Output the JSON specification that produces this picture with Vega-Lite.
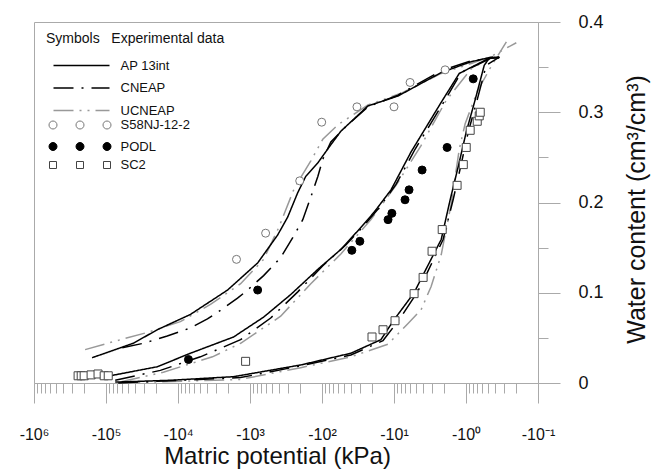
{
  "$schema": "https://vega.github.io/schema/vega-lite/v6.json",
  "width": 504,
  "height": 361,
  "autosize": {"type": "none"},
  "padding": {"left": 34, "top": 22, "right": 122, "bottom": 91},
  "background": "white",
  "config": {
    "font": "Liberation Sans",
    "view": {"stroke": "#aaaaaa", "strokeWidth": 1},
    "axis": {"grid": false},
    "legend": {"padding": 0}
  },
  "resolve": {
    "axis": {"x": "independent", "y": "independent"},
    "scale": {"fill": "independent", "stroke": "independent"}
  },
  "datasets": {
    "curves": [
      {"model": "UCNEAP", "soil": "S58NJ-12-2", "h": 195000, "theta": 0.037},
      {"model": "UCNEAP", "soil": "S58NJ-12-2", "h": 69800, "theta": 0.047},
      {"model": "UCNEAP", "soil": "S58NJ-12-2", "h": 26700, "theta": 0.056},
      {"model": "UCNEAP", "soil": "S58NJ-12-2", "h": 9270, "theta": 0.068},
      {"model": "UCNEAP", "soil": "S58NJ-12-2", "h": 3540, "theta": 0.087},
      {"model": "UCNEAP", "soil": "S58NJ-12-2", "h": 1350, "theta": 0.110},
      {"model": "UCNEAP", "soil": "S58NJ-12-2", "h": 647, "theta": 0.137},
      {"model": "UCNEAP", "soil": "S58NJ-12-2", "h": 400, "theta": 0.172},
      {"model": "UCNEAP", "soil": "S58NJ-12-2", "h": 239, "theta": 0.217},
      {"model": "UCNEAP", "soil": "S58NJ-12-2", "h": 143, "theta": 0.246},
      {"model": "UCNEAP", "soil": "S58NJ-12-2", "h": 97.5, "theta": 0.270},
      {"model": "UCNEAP", "soil": "S58NJ-12-2", "h": 60.3, "theta": 0.286},
      {"model": "UCNEAP", "soil": "S58NJ-12-2", "h": 23.0, "theta": 0.308},
      {"model": "UCNEAP", "soil": "S58NJ-12-2", "h": 8.0, "theta": 0.321},
      {"model": "UCNEAP", "soil": "S58NJ-12-2", "h": 2.21, "theta": 0.343},
      {"model": "UCNEAP", "soil": "S58NJ-12-2", "h": 0.847, "theta": 0.354},
      {"model": "UCNEAP", "soil": "S58NJ-12-2", "h": 0.446, "theta": 0.362},
      {"model": "UCNEAP", "soil": "S58NJ-12-2", "h": 0.2, "theta": 0.377},
      {"model": "UCNEAP", "soil": "PODL", "h": 63400, "theta": 0.001},
      {"model": "UCNEAP", "soil": "PODL", "h": 16000, "theta": 0.012},
      {"model": "UCNEAP", "soil": "PODL", "h": 3320, "theta": 0.029},
      {"model": "UCNEAP", "soil": "PODL", "h": 1350, "theta": 0.044},
      {"model": "UCNEAP", "soil": "PODL", "h": 375, "theta": 0.074},
      {"model": "UCNEAP", "soil": "PODL", "h": 143, "theta": 0.110},
      {"model": "UCNEAP", "soil": "PODL", "h": 54.7, "theta": 0.143},
      {"model": "UCNEAP", "soil": "PODL", "h": 20.9, "theta": 0.181},
      {"model": "UCNEAP", "soil": "PODL", "h": 9.38, "theta": 0.219},
      {"model": "UCNEAP", "soil": "PODL", "h": 4.21, "theta": 0.263},
      {"model": "UCNEAP", "soil": "PODL", "h": 1.89, "theta": 0.313},
      {"model": "UCNEAP", "soil": "PODL", "h": 0.847, "theta": 0.348},
      {"model": "UCNEAP", "soil": "PODL", "h": 0.418, "theta": 0.362},
      {"model": "UCNEAP", "soil": "SC2", "h": 63400, "theta": 0.0},
      {"model": "UCNEAP", "soil": "SC2", "h": 1350, "theta": 0.004},
      {"model": "UCNEAP", "soil": "SC2", "h": 197, "theta": 0.017},
      {"model": "UCNEAP", "soil": "SC2", "h": 39.7, "theta": 0.029},
      {"model": "UCNEAP", "soil": "SC2", "h": 12.1, "theta": 0.043},
      {"model": "UCNEAP", "soil": "SC2", "h": 6.38, "theta": 0.066},
      {"model": "UCNEAP", "soil": "SC2", "h": 4.21, "theta": 0.081},
      {"model": "UCNEAP", "soil": "SC2", "h": 3.05, "theta": 0.107},
      {"model": "UCNEAP", "soil": "SC2", "h": 2.21, "theta": 0.142},
      {"model": "UCNEAP", "soil": "SC2", "h": 1.61, "theta": 0.198},
      {"model": "UCNEAP", "soil": "SC2", "h": 1.24, "theta": 0.259},
      {"model": "UCNEAP", "soil": "SC2", "h": 1.03, "theta": 0.287},
      {"model": "UCNEAP", "soil": "SC2", "h": 0.698, "theta": 0.323},
      {"model": "UCNEAP", "soil": "SC2", "h": 0.446, "theta": 0.351},
      {"model": "UCNEAP", "soil": "SC2", "h": 0.275, "theta": 0.378},
      {"model": "CNEAP", "soil": "S58NJ-12-2", "h": 59500, "theta": 0.039},
      {"model": "CNEAP", "soil": "S58NJ-12-2", "h": 30300, "theta": 0.044},
      {"model": "CNEAP", "soil": "S58NJ-12-2", "h": 14100, "theta": 0.052},
      {"model": "CNEAP", "soil": "S58NJ-12-2", "h": 6710, "theta": 0.061},
      {"model": "CNEAP", "soil": "S58NJ-12-2", "h": 3900, "theta": 0.071},
      {"model": "CNEAP", "soil": "S58NJ-12-2", "h": 2740, "theta": 0.079},
      {"model": "CNEAP", "soil": "S58NJ-12-2", "h": 1490, "theta": 0.094},
      {"model": "CNEAP", "soil": "S58NJ-12-2", "h": 1080, "theta": 0.103},
      {"model": "CNEAP", "soil": "S58NJ-12-2", "h": 647, "theta": 0.119},
      {"model": "CNEAP", "soil": "S58NJ-12-2", "h": 375, "theta": 0.139},
      {"model": "CNEAP", "soil": "S58NJ-12-2", "h": 255, "theta": 0.161},
      {"model": "CNEAP", "soil": "S58NJ-12-2", "h": 185, "theta": 0.181},
      {"model": "CNEAP", "soil": "S58NJ-12-2", "h": 143, "theta": 0.206},
      {"model": "CNEAP", "soil": "S58NJ-12-2", "h": 114, "theta": 0.229},
      {"model": "CNEAP", "soil": "S58NJ-12-2", "h": 97.5, "theta": 0.248},
      {"model": "CNEAP", "soil": "S58NJ-12-2", "h": 75.4, "theta": 0.267},
      {"model": "CNEAP", "soil": "S58NJ-12-2", "h": 46.7, "theta": 0.284},
      {"model": "CNEAP", "soil": "S58NJ-12-2", "h": 23.0, "theta": 0.306},
      {"model": "CNEAP", "soil": "S58NJ-12-2", "h": 8.79, "theta": 0.319},
      {"model": "CNEAP", "soil": "S58NJ-12-2", "h": 2.21, "theta": 0.346},
      {"model": "CNEAP", "soil": "S58NJ-12-2", "h": 0.847, "theta": 0.357},
      {"model": "CNEAP", "soil": "S58NJ-12-2", "h": 0.345, "theta": 0.361},
      {"model": "CNEAP", "soil": "PODL", "h": 74500, "theta": 0.003},
      {"model": "CNEAP", "soil": "PODL", "h": 17600, "theta": 0.014},
      {"model": "CNEAP", "soil": "PODL", "h": 4880, "theta": 0.029},
      {"model": "CNEAP", "soil": "PODL", "h": 1350, "theta": 0.048},
      {"model": "CNEAP", "soil": "PODL", "h": 516, "theta": 0.072},
      {"model": "CNEAP", "soil": "PODL", "h": 217, "theta": 0.101},
      {"model": "CNEAP", "soil": "PODL", "h": 97.5, "theta": 0.130},
      {"model": "CNEAP", "soil": "PODL", "h": 46.7, "theta": 0.153},
      {"model": "CNEAP", "soil": "PODL", "h": 27.0, "theta": 0.173},
      {"model": "CNEAP", "soil": "PODL", "h": 16.2, "theta": 0.194},
      {"model": "CNEAP", "soil": "PODL", "h": 9.38, "theta": 0.220},
      {"model": "CNEAP", "soil": "PODL", "h": 5.10, "theta": 0.259},
      {"model": "CNEAP", "soil": "PODL", "h": 2.01, "theta": 0.312},
      {"model": "CNEAP", "soil": "PODL", "h": 1.17, "theta": 0.344},
      {"model": "CNEAP", "soil": "PODL", "h": 0.446, "theta": 0.360},
      {"model": "CNEAP", "soil": "SC2", "h": 67600, "theta": 0.0},
      {"model": "CNEAP", "soil": "SC2", "h": 1350, "theta": 0.006},
      {"model": "CNEAP", "soil": "SC2", "h": 197, "theta": 0.019},
      {"model": "CNEAP", "soil": "SC2", "h": 39.7, "theta": 0.031},
      {"model": "CNEAP", "soil": "SC2", "h": 14.2, "theta": 0.047},
      {"model": "CNEAP", "soil": "SC2", "h": 8.51, "theta": 0.070},
      {"model": "CNEAP", "soil": "SC2", "h": 4.79, "theta": 0.100},
      {"model": "CNEAP", "soil": "SC2", "h": 3.47, "theta": 0.122},
      {"model": "CNEAP", "soil": "SC2", "h": 2.08, "theta": 0.159},
      {"model": "CNEAP", "soil": "SC2", "h": 1.51, "theta": 0.203},
      {"model": "CNEAP", "soil": "SC2", "h": 1.17, "theta": 0.242},
      {"model": "CNEAP", "soil": "SC2", "h": 0.931, "theta": 0.278},
      {"model": "CNEAP", "soil": "SC2", "h": 0.698, "theta": 0.314},
      {"model": "CNEAP", "soil": "SC2", "h": 0.524, "theta": 0.352},
      {"model": "CNEAP", "soil": "SC2", "h": 0.345, "theta": 0.361},
      {"model": "AP 13int", "soil": "S58NJ-12-2", "h": 156000, "theta": 0.028},
      {"model": "AP 13int", "soil": "S58NJ-12-2", "h": 41800, "theta": 0.044},
      {"model": "AP 13int", "soil": "S58NJ-12-2", "h": 19400, "theta": 0.059},
      {"model": "AP 13int", "soil": "S58NJ-12-2", "h": 6710, "theta": 0.076},
      {"model": "AP 13int", "soil": "S58NJ-12-2", "h": 2050, "theta": 0.103},
      {"model": "AP 13int", "soil": "S58NJ-12-2", "h": 783, "theta": 0.133},
      {"model": "AP 13int", "soil": "S58NJ-12-2", "h": 413, "theta": 0.164},
      {"model": "AP 13int", "soil": "S58NJ-12-2", "h": 299, "theta": 0.184},
      {"model": "AP 13int", "soil": "S58NJ-12-2", "h": 217, "theta": 0.211},
      {"model": "AP 13int", "soil": "S58NJ-12-2", "h": 168, "theta": 0.229},
      {"model": "AP 13int", "soil": "S58NJ-12-2", "h": 114, "theta": 0.244},
      {"model": "AP 13int", "soil": "S58NJ-12-2", "h": 75.4, "theta": 0.264},
      {"model": "AP 13int", "soil": "S58NJ-12-2", "h": 54.7, "theta": 0.279},
      {"model": "AP 13int", "soil": "S58NJ-12-2", "h": 23.0, "theta": 0.307},
      {"model": "AP 13int", "soil": "S58NJ-12-2", "h": 8.79, "theta": 0.318},
      {"model": "AP 13int", "soil": "S58NJ-12-2", "h": 2.21, "theta": 0.344},
      {"model": "AP 13int", "soil": "S58NJ-12-2", "h": 0.847, "theta": 0.356},
      {"model": "AP 13int", "soil": "S58NJ-12-2", "h": 0.446, "theta": 0.361},
      {"model": "AP 13int", "soil": "S58NJ-12-2", "h": 0.345, "theta": 0.360},
      {"model": "AP 13int", "soil": "PODL", "h": 87500, "theta": 0.008},
      {"model": "AP 13int", "soil": "PODL", "h": 19400, "theta": 0.018},
      {"model": "AP 13int", "soil": "PODL", "h": 6710, "theta": 0.033},
      {"model": "AP 13int", "soil": "PODL", "h": 1690, "theta": 0.051},
      {"model": "AP 13int", "soil": "PODL", "h": 647, "theta": 0.073},
      {"model": "AP 13int", "soil": "PODL", "h": 272, "theta": 0.098},
      {"model": "AP 13int", "soil": "PODL", "h": 114, "theta": 0.126},
      {"model": "AP 13int", "soil": "PODL", "h": 54.7, "theta": 0.148},
      {"model": "AP 13int", "soil": "PODL", "h": 30.7, "theta": 0.170},
      {"model": "AP 13int", "soil": "PODL", "h": 19.0, "theta": 0.189},
      {"model": "AP 13int", "soil": "PODL", "h": 11.0, "theta": 0.214},
      {"model": "AP 13int", "soil": "PODL", "h": 5.80, "theta": 0.256},
      {"model": "AP 13int", "soil": "PODL", "h": 2.21, "theta": 0.311},
      {"model": "AP 13int", "soil": "PODL", "h": 1.24, "theta": 0.343},
      {"model": "AP 13int", "soil": "PODL", "h": 0.475, "theta": 0.360},
      {"model": "AP 13int", "soil": "PODL", "h": 0.345, "theta": 0.361},
      {"model": "AP 13int", "soil": "SC2", "h": 74500, "theta": 0.001},
      {"model": "AP 13int", "soil": "SC2", "h": 12800, "theta": 0.003},
      {"model": "AP 13int", "soil": "SC2", "h": 1690, "theta": 0.007},
      {"model": "AP 13int", "soil": "SC2", "h": 197, "theta": 0.020},
      {"model": "AP 13int", "soil": "SC2", "h": 39.7, "theta": 0.033},
      {"model": "AP 13int", "soil": "SC2", "h": 15.2, "theta": 0.048},
      {"model": "AP 13int", "soil": "SC2", "h": 10.0, "theta": 0.070},
      {"model": "AP 13int", "soil": "SC2", "h": 5.26, "theta": 0.100},
      {"model": "AP 13int", "soil": "SC2", "h": 3.82, "theta": 0.122},
      {"model": "AP 13int", "soil": "SC2", "h": 2.21, "theta": 0.159},
      {"model": "AP 13int", "soil": "SC2", "h": 1.66, "theta": 0.203},
      {"model": "AP 13int", "soil": "SC2", "h": 1.28, "theta": 0.240},
      {"model": "AP 13int", "soil": "SC2", "h": 0.993, "theta": 0.278},
      {"model": "AP 13int", "soil": "SC2", "h": 0.745, "theta": 0.314},
      {"model": "AP 13int", "soil": "SC2", "h": 0.558, "theta": 0.352},
      {"model": "AP 13int", "soil": "SC2", "h": 0.475, "theta": 0.360},
      {"model": "AP 13int", "soil": "SC2", "h": 0.345, "theta": 0.361}
    ],
    "obs": [
      {"soil": "S58NJ-12-2", "h": 1540, "theta": 0.137},
      {"soil": "S58NJ-12-2", "h": 607, "theta": 0.166},
      {"soil": "S58NJ-12-2", "h": 204, "theta": 0.224},
      {"soil": "S58NJ-12-2", "h": 101, "theta": 0.289},
      {"soil": "S58NJ-12-2", "h": 32.7, "theta": 0.306},
      {"soil": "S58NJ-12-2", "h": 10.0, "theta": 0.306},
      {"soil": "S58NJ-12-2", "h": 5.98, "theta": 0.333},
      {"soil": "S58NJ-12-2", "h": 1.95, "theta": 0.347},
      {"soil": "PODL", "h": 7160, "theta": 0.026},
      {"soil": "PODL", "h": 783, "theta": 0.103},
      {"soil": "PODL", "h": 38.5, "theta": 0.147},
      {"soil": "PODL", "h": 29.8, "theta": 0.157},
      {"soil": "PODL", "h": 12.1, "theta": 0.181},
      {"soil": "PODL", "h": 10.7, "theta": 0.188},
      {"soil": "PODL", "h": 7.03, "theta": 0.203},
      {"soil": "PODL", "h": 6.18, "theta": 0.214},
      {"soil": "PODL", "h": 4.07, "theta": 0.236},
      {"soil": "PODL", "h": 1.83, "theta": 0.261},
      {"soil": "PODL", "h": 0.794, "theta": 0.337}
    ],
    "obs_sc2": [
      {"soil": "SC2", "h": 244000, "theta": 0.008},
      {"soil": "SC2", "h": 221000, "theta": 0.008},
      {"soil": "SC2", "h": 201000, "theta": 0.008},
      {"soil": "SC2", "h": 161000, "theta": 0.009},
      {"soil": "SC2", "h": 129000, "theta": 0.010},
      {"soil": "SC2", "h": 106000, "theta": 0.008},
      {"soil": "SC2", "h": 93100, "theta": 0.008},
      {"soil": "SC2", "h": 1151, "theta": 0.024},
      {"soil": "SC2", "h": 20.2, "theta": 0.051},
      {"soil": "SC2", "h": 14.2, "theta": 0.059},
      {"soil": "SC2", "h": 9.68, "theta": 0.069},
      {"soil": "SC2", "h": 5.26, "theta": 0.099},
      {"soil": "SC2", "h": 3.94, "theta": 0.117},
      {"soil": "SC2", "h": 2.96, "theta": 0.146},
      {"soil": "SC2", "h": 2.14, "theta": 0.170},
      {"soil": "SC2", "h": 1.33, "theta": 0.219},
      {"soil": "SC2", "h": 1.09, "theta": 0.242},
      {"soil": "SC2", "h": 0.993, "theta": 0.261},
      {"soil": "SC2", "h": 0.875, "theta": 0.280},
      {"soil": "SC2", "h": 0.698, "theta": 0.290},
      {"soil": "SC2", "h": 0.655, "theta": 0.296},
      {"soil": "SC2", "h": 0.634, "theta": 0.300}
    ]
  },
  "layer": [
    {
      "data": {"name": "curves"},
      "mark": {"type": "line", "strokeWidth": 1.5},
      "encoding": {
        "x": {
          "field": "h",
          "type": "quantitative",
          "scale": {"type": "log", "domain": [0.1, 1000000], "reverse": true, "nice": false},
          "axis": {
            "orient": "bottom",
            "values": [0.1, 1, 10, 100, 1000, 10000, 100000, 1000000],
            "ticks": true,
            "tickSize": 20,
            "tickColor": "#aaaaaa",
            "tickWidth": 1,
            "domainColor": "#aaaaaa",
            "domainWidth": 1,
            "labelExpr": "['-10⁻¹','-10⁰','-10¹','-10²','-10³','-10⁴','-10⁵','-10⁶'][round(log(datum.value)/LN10) + 1]",
            "labelFontSize": 16,
            "labelColor": "#111111",
            "labelPadding": 23.5,
            "labelOverlap": false,
            "labelFlush": false,
            "labelBound": false,
            "title": "Matric potential (kPa)",
            "titleFontSize": 24,
            "titleFontWeight": "normal",
            "titleColor": "#111111",
            "titlePadding": 2,
            "titleX": 243,
            "grid": false
          }
        },
        "y": {
          "field": "theta",
          "type": "quantitative",
          "scale": {"domain": [0, 0.4], "nice": false},
          "axis": {
            "orient": "right",
            "values": [0, 0.1, 0.2, 0.3, 0.4],
            "ticks": true,
            "tickSize": 22,
            "tickColor": "#aaaaaa",
            "tickWidth": 1,
            "domainColor": "#aaaaaa",
            "domainWidth": 1,
            "labelExpr": "datum.value == 0 ? '0' : format(datum.value, '.1f')",
            "labelFontSize": 18,
            "labelColor": "#111111",
            "labelPadding": 18,
            "labelOverlap": false,
            "labelFlush": false,
            "labelBound": false,
            "title": "Water content (cm³/cm³)",
            "titleFontSize": 25,
            "titleFontWeight": "normal",
            "titleColor": "#111111",
            "titleAngle": 270,
            "titleBaseline": "top",
            "titleAlign": "center",
            "titlePadding": 21,
            "titleY": 187,
            "grid": false
          }
        },
        "color": {
          "field": "model",
          "type": "nominal",
          "scale": {"domain": ["AP 13int", "CNEAP", "UCNEAP"], "range": ["#000000", "#000000", "#999999"]},
          "legend": {
            "title": "Symbols\u00a0\u00a0\u00a0Experimental data",
            "orient": "none",
            "legendX": 12,
            "legendY": 9.5,
            "direction": "vertical",
            "symbolType": "M-4,0L4,0",
            "symbolSize": 196,
            "symbolStrokeWidth": 1.5,
            "symbolOffset": 27.5,
            "labelOffset": 31,
            "labelFontSize": 13,
            "labelColor": "#111111",
            "titleFontSize": 14,
            "titleFontWeight": "normal",
            "titleColor": "#111111",
            "titlePadding": 12,
            "rowPadding": 7.5,
            "padding": 0
          }
        },
        "strokeDash": {
          "field": "model",
          "type": "nominal",
          "scale": {"domain": ["AP 13int", "CNEAP", "UCNEAP"], "range": [[1, 0], [20, 8, 2, 8], [20, 6, 2, 6, 2, 6]]}
        },
        "detail": {"field": "soil", "type": "nominal"}
      }
    },
    {
      "data": {"name": "obs"},
      "mark": {"type": "point", "shape": "circle", "filled": true, "size": 64, "strokeWidth": 1, "opacity": 1},
      "encoding": {
        "x": {
          "field": "h",
          "type": "quantitative",
          "axis": {
            "orient": "bottom",
            "values": [0.2, 0.3, 0.4, 0.5, 0.6, 0.7, 0.8, 0.9, 2, 3, 4, 5, 6, 7, 8, 9, 20, 30, 40, 50, 60, 70, 80, 90, 200, 300, 400, 500, 600, 700, 800, 900, 2000, 3000, 4000, 5000, 6000, 7000, 8000, 9000, 20000, 30000, 40000, 50000, 60000, 70000, 80000, 90000, 200000, 300000, 400000, 500000, 600000, 700000, 800000, 900000],
            "tickSize": 10,
            "tickColor": "#aaaaaa",
            "tickWidth": 1,
            "domain": false,
            "labels": false,
            "title": null,
            "grid": false
          }
        },
        "y": {
          "field": "theta",
          "type": "quantitative",
          "axis": {
            "orient": "right",
            "values": [0.05, 0.15, 0.25, 0.35],
            "tickSize": 10,
            "tickColor": "#aaaaaa",
            "tickWidth": 1,
            "domain": false,
            "labels": false,
            "title": null,
            "grid": false
          }
        },
        "fill": {
          "field": "soil",
          "type": "nominal",
          "scale": {"domain": ["S58NJ-12-2", "PODL"], "range": ["#ffffff", "#000000"]},
          "legend": {
            "title": null,
            "orient": "none",
            "legendX": 12,
            "legendY": 96.5,
            "direction": "vertical",
            "symbolType": "M-7.75,0A1,1,0,1,0,-5.75,0A1,1,0,1,0,-7.75,0Z M-1,0A1,1,0,1,0,1,0A1,1,0,1,0,-1,0Z M5.75,0A1,1,0,1,0,7.75,0A1,1,0,1,0,5.75,0Z",
            "symbolSize": 64,
            "symbolStrokeWidth": 1,
            "symbolOffset": 27.5,
            "labelOffset": 34,
            "labelFontSize": 13,
            "labelColor": "#111111",
            "rowPadding": 7.5,
            "padding": 0
          }
        },
        "stroke": {
          "field": "soil",
          "type": "nominal",
          "scale": {"domain": ["S58NJ-12-2", "PODL"], "range": ["#777777", "#000000"]}
        }
      }
    },
    {
      "data": {"name": "obs_sc2"},
      "mark": {"type": "point", "shape": "square", "filled": true, "size": 64, "strokeWidth": 1, "opacity": 1},
      "encoding": {
        "x": {"field": "h", "type": "quantitative", "axis": null},
        "y": {"field": "theta", "type": "quantitative", "axis": null},
        "fill": {
          "field": "soil",
          "type": "nominal",
          "scale": {"domain": ["SC2"], "range": ["#ffffff"]},
          "legend": {
            "title": null,
            "orient": "none",
            "legendX": 12,
            "legendY": 136.5,
            "direction": "vertical",
            "symbolType": "M-7.625,-0.875L-5.875,-0.875L-5.875,0.875L-7.625,0.875Z M-0.875,-0.875L0.875,-0.875L0.875,0.875L-0.875,0.875Z M5.875,-0.875L7.625,-0.875L7.625,0.875L5.875,0.875Z",
            "symbolSize": 64,
            "symbolStrokeWidth": 1,
            "symbolOffset": 27.5,
            "labelOffset": 34,
            "labelFontSize": 13,
            "labelColor": "#111111",
            "rowPadding": 7.5,
            "padding": 0
          }
        },
        "stroke": {
          "field": "soil",
          "type": "nominal",
          "scale": {"domain": ["SC2"], "range": ["#444444"]}
        }
      }
    }
  ]
}
